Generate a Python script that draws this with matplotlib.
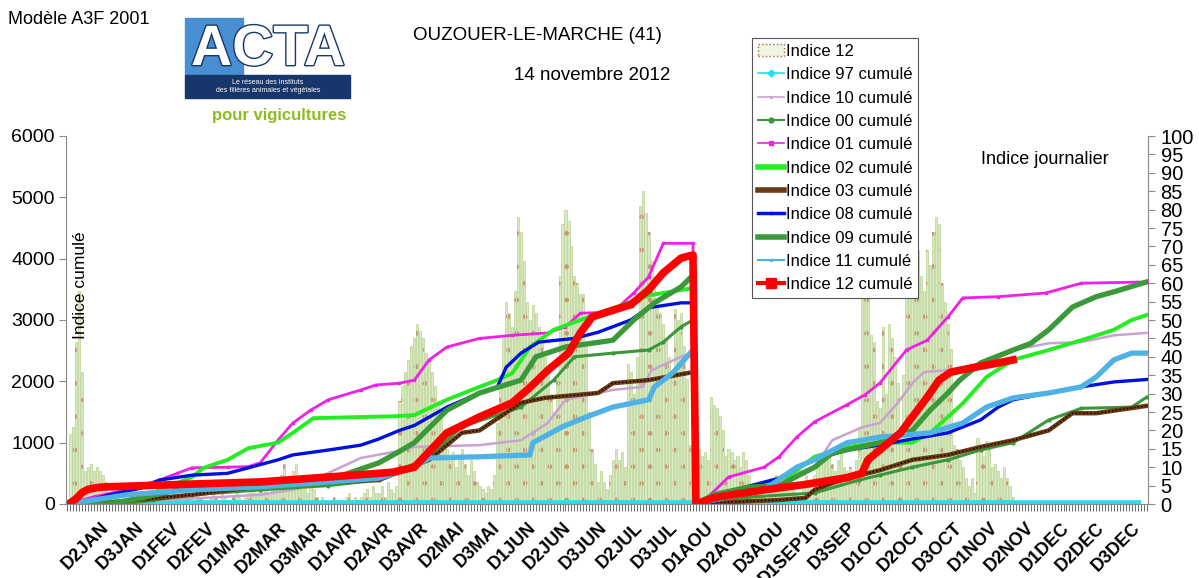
import numpy as np
import matplotlib.pyplot as plt
from matplotlib.patches import Patch, Rectangle
from matplotlib.lines import Line2D
import matplotlib.patheffects as pe

plt.rcParams['font.family'] = ['Liberation Sans', 'DejaVu Sans']

# daily "Indice 12" (right axis), day 1..365
bar_vals = [
    0, 19, 21, 44, 58, 36, 9, 10, 11, 9,
    10, 9, 8, 6, 1, 0, 2, 1, 0, 0,
    1, 3, 2, 0, 1, 0, 2, 1, 0, 1,
    2, 0, 1, 3, 1, 0, 0, 2, 1, 0,
    1, 2, 0, 1, 3, 2, 1, 0, 2, 3,
    2, 1, 3, 2, 0, 1, 2, 3, 2, 1,
    2, 3, 4, 5, 3, 4, 5, 4, 3, 5,
    4, 6, 8, 11, 7, 5, 9, 11, 6, 4,
    5, 3, 6, 4, 2, 1, 2, 1, 0, 1,
    2, 1, 0, 1, 2, 3, 1, 2, 1, 2,
    3, 4, 2, 5, 3, 3, 5, 2, 6, 4,
    3, 5, 28, 32, 36, 39, 43, 45, 49, 47,
    45, 41, 39, 36, 32, 28, 25, 20, 15, 12,
    14, 10, 13, 15, 11, 8, 12, 9, 6, 5,
    4, 3, 5, 4, 8, 22, 35, 45, 55, 52,
    48, 58, 78, 74, 66, 55, 50, 54, 52, 48,
    45, 40, 37, 30, 25, 35, 62, 76, 80, 77,
    70, 62, 60, 57, 57, 43, 25, 15, 11, 6,
    9, 6, 4, 8, 12, 15, 12, 14, 10, 38,
    36, 30, 40, 81, 85, 79, 74, 66, 60, 54,
    52, 49, 45, 40, 36, 53, 50, 52, 43, 34,
    16, 8, 5, 15, 13, 14, 12, 29, 27, 26,
    24, 20, 13, 15, 14, 12, 13, 10, 14, 12,
    8, 4, 3, 6, 5, 2, 0, 3, 7, 8,
    6, 5, 4, 6, 7, 5, 3, 2, 5, 8,
    6, 4, 8, 10, 11, 12, 12, 14, 11, 9,
    12, 14, 10, 9, 10, 8, 12, 20, 62, 60,
    58, 46, 44, 28, 26, 48, 30, 49, 45, 40,
    33, 20, 35, 60, 91, 87, 75, 69, 62, 58,
    69, 65, 74, 78, 76, 60, 55, 49, 42, 16,
    15, 12, 10, 7, 5, 7, 3, 18, 16, 13,
    17, 15, 10, 11, 9, 7, 10, 7, 5, 2,
    0, 0, 0, 0, 0, 0, 0, 0, 0, 0,
    0, 0, 0, 0, 0, 0, 0, 0, 0, 0,
    0, 0, 0, 0, 0, 0, 0, 0, 0, 0,
    0, 0, 0, 0, 0, 0, 0, 0, 0, 0,
    0, 0, 0, 0, 0,
]

# cumulated indices (left axis): sampled days / values
i97_days = [1, 363]
i97_vals = [0, 0]

i10_days = [1, 32, 66, 79, 86, 100, 111, 118, 140, 154, 163, 169, 185, 195, 198, 208, 212,
            213, 230, 241, 253, 259, 269, 275, 281, 286, 290, 309, 320, 332, 343, 354, 365]
i10_vals = [0, 60, 150, 250, 440, 750, 850, 930, 960, 1040, 1320, 1700, 1860, 1910, 2180, 2400, 2460,
            0, 200, 420, 600, 1040, 1250, 1320, 1640, 1970, 2150, 2230, 2510, 2620, 2640, 2750, 2790]

i00_days = [1, 20, 30, 43, 66, 89, 106, 123, 134, 154, 165, 172, 185, 197, 202, 208, 212,
            213, 230, 253, 268, 275, 286, 298, 309, 320, 332, 343, 360, 365]
i00_vals = [0, 0, 60, 150, 230, 300, 390, 770, 1260, 1580, 2020, 2400, 2460, 2510, 2640, 2890, 3000,
            0, 110, 180, 390, 470, 600, 720, 880, 1000, 1370, 1560, 1580, 1740]

i01_days = [1, 10, 21, 32, 38, 43, 55, 62, 66, 72, 77, 83, 89, 100, 105, 113, 118, 123, 129, 140,
            151, 163, 169, 174, 185, 192, 197, 202, 212,
            213, 217, 224, 236, 241, 247, 253, 264, 270, 275, 284, 291, 298, 303, 315, 331, 343, 365]
i01_vals = [0, 120, 230, 390, 500, 590, 600, 610, 670, 1040, 1320, 1530, 1700, 1860, 1940, 1970, 2020,
            2350, 2560, 2700, 2750, 2790, 2890, 3110, 3130, 3440, 3700, 4250, 4250,
            0, 110, 440, 600, 770, 1090, 1340, 1620, 1780, 1970, 2510, 2670, 3050, 3360, 3380, 3440,
            3600, 3620]

i02_days = [1, 5, 15, 26, 32, 38, 43, 47, 55, 62, 72, 77, 84, 111, 118, 129, 140, 146, 151, 157,
            165, 174, 180, 185, 197, 208, 212,
            213, 219, 230, 241, 247, 253, 264, 275, 286, 292, 298, 303, 311, 320, 332, 343, 354, 360, 365]
i02_vals = [0, 30, 40, 60, 230, 340, 440, 590, 720, 910, 1000, 1160, 1400, 1430, 1450, 1700, 1910,
            2020, 2130, 2560, 2840, 3000, 3110, 3190, 3400, 3490, 3520,
            0, 110, 260, 280, 550, 770, 930, 1000, 1000, 1160, 1420, 1640, 2070, 2350, 2510, 2670,
            2840, 3000, 3080]

i03_days = [1, 15, 32, 43, 55, 66, 89, 106, 123, 134, 140, 154, 162, 180, 185, 197, 212,
            213, 219, 241, 250, 253, 259, 264, 275, 286, 298, 309, 320, 332, 340, 348, 365]
i03_vals = [0, 20, 100, 150, 220, 290, 360, 390, 720, 1160, 1200, 1650, 1730, 1810, 1970, 2020, 2150,
            0, 20, 65, 100, 230, 340, 420, 550, 720, 800, 930, 1040, 1200, 1480, 1480, 1600]

i08_days = [1, 5, 15, 26, 32, 43, 55, 62, 72, 77, 89, 100, 106, 113, 118, 129, 140, 146, 149, 154,
            160, 172, 180, 191, 197, 208, 212,
            213, 219, 230, 241, 247, 253, 264, 275, 286, 298, 309, 315, 320, 332, 343, 354, 365]
i08_vals = [0, 10, 150, 260, 390, 470, 500, 590, 720, 800, 880, 960, 1060, 1200, 1280, 1580, 1810,
            1910, 2230, 2460, 2640, 2700, 2800, 3000, 3200, 3280, 3280,
            0, 30, 280, 420, 590, 720, 880, 960, 1060, 1160, 1370, 1580, 1700, 1810, 1910, 1990, 2030]

i09_days = [1, 15, 26, 38, 49, 66, 89, 106, 112, 118, 129, 140, 154, 159, 169, 185, 192, 199, 208, 212,
            213, 219, 230, 241, 253, 259, 275, 286, 292, 298, 302, 309, 320, 326, 332, 340, 348, 354, 365]
i09_vals = [0, 0, 100, 230, 260, 280, 390, 670, 830, 1000, 1530, 1810, 2020, 2400, 2560, 2670, 3000,
            3280, 3540, 3730,
            0, 150, 270, 300, 600, 830, 1000, 1200, 1530, 1810, 2020, 2300, 2510, 2620, 2840, 3210,
            3380, 3460, 3620]

i11_days = [1, 21, 43, 66, 89, 106, 118, 123, 140, 157, 158, 168, 176, 185, 197, 199, 205, 212,
            213, 219, 236, 247, 253, 264, 275, 292, 303, 311, 320, 332, 343, 348, 354, 360, 365]
i11_vals = [0, 150, 230, 280, 360, 420, 600, 750, 770, 800, 1000, 1260, 1420, 1580, 1700, 1910, 2130, 2510,
            0, 65, 230, 600, 720, 1000, 1090, 1160, 1320, 1580, 1730, 1810, 1910, 2070, 2350, 2460, 2460]

i12_days = [1, 2, 4, 6, 8, 12, 21, 43, 66, 89, 106, 111, 118, 129, 140, 151, 157, 163, 170, 174, 178,
            185, 191, 197, 202, 208, 212,
            213, 219, 225, 236, 250, 264, 269, 271, 275, 282, 286, 291, 295, 299, 306, 315, 320]
i12_vals = [0, 20, 90, 190, 240, 275, 290, 325, 360, 440, 500, 520, 600, 1160, 1420, 1650, 1900, 2180,
            2460, 2790, 3050, 3160, 3250, 3490, 3770, 4010, 4060,
            0, 100, 150, 230, 320, 430, 500, 720, 880, 1160, 1420, 1740, 2020, 2150, 2220, 2300, 2350]

tick_days = [12, 24, 36, 48, 60, 72, 84, 96, 108, 120, 132, 144, 156, 168, 180, 192, 204, 216,
             228, 240, 252, 264, 276, 288, 300, 312, 324, 336, 348, 360]
tick_labels = ['D2JAN', 'D3JAN', 'D1FEV', 'D2FEV', 'D1MAR', 'D2MAR', 'D3MAR', 'D1AVR', 'D2AVR',
               'D3AVR', 'D2MAI', 'D3MAI', 'D1JUN', 'D2JUN', 'D3JUN', 'D2JUL', 'D3JUL', 'D1AOU',
               'D2AOU', 'D3AOU', 'D1SEP10', 'D3SEP', 'D1OCT', 'D2OCT', 'D3OCT', 'D1NOV', 'D2NOV',
               'D1DEC', 'D2DEC', 'D3DEC']

days = np.arange(1, len(bar_vals) + 1)

fig = plt.figure(figsize=(11.99, 5.78), dpi=100)
ax = fig.add_axes([66/1199, 1-504/578, 1082/1199, 368/578])
ax2 = ax.twinx()

# bars on the right axis, drawn behind the lines
ax2.bar(days, bar_vals, width=0.72, color='#d9eac2', edgecolor='#b8d292', linewidth=0.5)
ax2.bar(days, bar_vals, width=0.72, fill=False, hatch='.', edgecolor='#c89878', linewidth=0)
ax2.set_ylim(0, 100)
ax.set_zorder(ax2.get_zorder() + 1)
ax.patch.set_visible(False)

ax.plot(i97_days, i97_vals, color='#22e0f0', lw=5.5, solid_capstyle='butt')
ax.plot(i10_days, i10_vals, color='#c9a2d2', lw=1.8)
ax.plot(i00_days, i00_vals, color='#3c963c', lw=2.2, marker='o', ms=2)
ax.plot(i01_days, i01_vals, color='#f020e8', lw=2.0, marker='s', ms=2)
ax.plot(i02_days, i02_vals, color='#22ee22', lw=2.8)
ax.plot(i03_days, i03_vals, color='#6a3a12', lw=3.2)
ax.plot(i03_days, i03_vals, color='black', lw=1.0, ls=':')
ax.plot(i08_days, i08_vals, color='#0010dd', lw=2.4)
ax.plot(i09_days, i09_vals, color='#3a9a3a', lw=3.8)
ax.plot(i11_days, i11_vals, color='#4fb2e6', lw=3.8)
ax.plot(i12_days, i12_vals, color='#ff0000', lw=5.5, marker='s', ms=3)

ax.set_xlim(0.5, len(bar_vals) + 0.5)
ax.set_ylim(0, 6000)

for s in ['top', 'right']:
    ax.spines[s].set_visible(False)
for s in ['top', 'left', 'bottom']:
    ax2.spines[s].set_visible(False)
ax.spines['left'].set_color('#8a8a8a')
ax.spines['bottom'].set_color('#8a8a8a')
ax2.spines['right'].set_color('#8a8a8a')

ax.set_yticks(range(0, 7000, 1000))
ax.tick_params(axis='y', direction='out', length=5, color='#8a8a8a', labelsize=14, pad=3)
ax2.set_yticks(range(0, 101, 5))
ax2.tick_params(axis='y', direction='out', length=5, color='#8a8a8a', labelsize=14.5, pad=4)

ax.set_xticks(tick_days)
ax.set_xticklabels(tick_labels, rotation=45, ha='right', va='top', rotation_mode='anchor',
                   fontsize=13, fontweight='bold')
ax.set_xticks(days, minor=True)
ax.tick_params(axis='x', which='both', direction='out', length=5, width=0.6, color='#555555', pad=6)

ax.text(0.013, 0.595, 'Indice cumulé', transform=ax.transAxes, rotation=90,
        ha='center', va='center', fontsize=12.5)
fig.text(1045/1199, 1-160/578, 'Indice journalier', ha='center', va='center', fontsize=13)
fig.text(8/1199, 1-20/578, 'Modèle A3F 2001', ha='left', va='center', fontsize=13)
fig.text(537/1199, 1-35/578, 'OUZOUER-LE-MARCHE (41)', ha='center', va='center', fontsize=13.5)
fig.text(592/1199, 1-76/578, '14 novembre 2012', ha='center', va='center', fontsize=13.5)

# logo block
fig.patches.append(Rectangle((185/1199, 1-75/578), 58/1199, 57/578, transform=fig.transFigure,
                             color='#4a8ed2', zorder=1))
fig.patches.append(Rectangle((185/1199, 1-98/578), 165/1199, 23/578, transform=fig.transFigure,
                             color='#17366c', zorder=1))
fig.text(268/1199, 1-77/578, 'ACTA', ha='center', va='bottom', fontsize=41, fontweight='bold',
         color='white', path_effects=[pe.withStroke(linewidth=2, foreground='#17366c')])
fig.text(268/1199, 1-83/578, 'Le réseau des instituts', ha='center', va='center', fontsize=5,
         color='white')
fig.text(268/1199, 1-91/578, 'des filières animales et végétales', ha='center', va='center',
         fontsize=5, color='white')
fig.text(279/1199, 1-115/578, 'pour vigicultures', ha='center', va='center', fontsize=12,
         fontweight='bold', color='#8cbd1e')

handles = [
    Patch(facecolor='#eef6e2', edgecolor='#9a6a4a', linestyle=':', linewidth=1),
    Line2D([], [], color='#22e0f0', lw=1.2, marker='D', ms=3.5),
    Line2D([], [], color='#c9a2d2', lw=1.2, marker='.', ms=3),
    Line2D([], [], color='#3c963c', lw=1.5, marker='o', ms=3.5),
    Line2D([], [], color='#f020e8', lw=1.2, marker='s', ms=3),
    Line2D([], [], color='#22ee22', lw=4),
    Line2D([], [], color='#6a3a12', lw=4),
    Line2D([], [], color='#0010dd', lw=2.5, marker='.', ms=3),
    Line2D([], [], color='#3a9a3a', lw=4),
    Line2D([], [], color='#4fb2e6', lw=1.5, marker='.', ms=3),
    Line2D([], [], color='#ff0000', lw=3, marker='s', ms=7),
]
labels = ['Indice 12', 'Indice 97 cumulé', 'Indice 10 cumulé', 'Indice 00 cumulé',
          'Indice 01 cumulé', 'Indice 02 cumulé', 'Indice 03 cumulé', 'Indice 08 cumulé',
          'Indice 09 cumulé', 'Indice 11 cumulé', 'Indice 12 cumulé']
leg = ax.legend(handles, labels, loc='upper left', bbox_to_anchor=(0.634, 1.266), fontsize=12,
                frameon=True, fancybox=False, edgecolor='#555555', framealpha=1,
                handlelength=1.6, handletextpad=0.1, labelspacing=0.5, borderpad=0.35,
                borderaxespad=0)
leg.get_frame().set_linewidth(0.8)

fig.savefig('out.png', dpi=100)
